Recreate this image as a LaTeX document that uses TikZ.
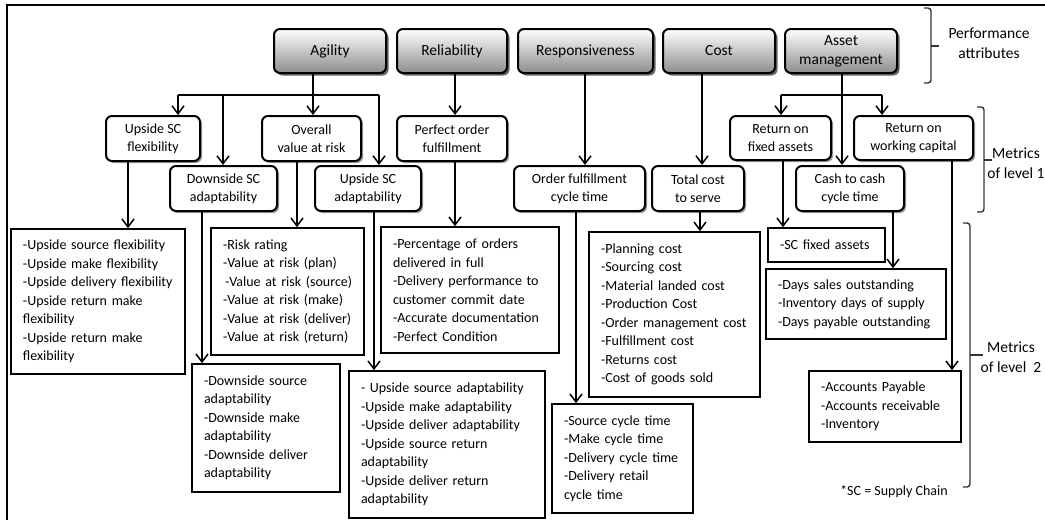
\documentclass[tikz,border=0pt]{standalone}
\usepackage{fontspec}
\setmainfont{Carlito}
\usetikzlibrary{arrows.meta,shadows}

\begin{document}
\begin{tikzpicture}[x=1pt,y=-1pt,
  attr/.style={draw=black, line width=2pt, rounded corners=6pt,
    top color=white, bottom color=black!45,
    drop shadow={shadow xshift=2.5pt, shadow yshift=-2.5pt, fill=black!75, opacity=0.8},
    minimum height=44pt, inner sep=2pt, align=center,
    font=\fontsize{15.5}{19}\selectfont},
  met/.style={draw=black, line width=2pt, rounded corners=6pt, fill=white,
    drop shadow={shadow xshift=2pt, shadow yshift=-2pt, fill=black!50, opacity=0.8},
    minimum height=45pt, inner sep=2pt, align=center,
    font=\fontsize{14}{18}\selectfont},
  lst/.style={draw=black, line width=1.6pt, fill=white, inner xsep=12pt, inner ysep=0pt,
    align=left, font=\fontsize{14}{18.5}\selectfont},
  wire/.style={line width=1.5pt},
  conn/.style={line width=1.5pt, -{Straight Barb[length=8pt,width=12pt]}},
  brk/.style={line width=1.4pt, draw=black!80, rounded corners=3pt},
  lbl/.style={inner sep=0pt, align=center, font=\fontsize{15.5}{20}\selectfont}
]
\useasboundingbox (0,0) rectangle (1045,520);

% outer frame (top and left edges)
\draw[line width=2pt] (7,520) -- (7,5) -- (1045,5);

% performance attributes
\node[attr, minimum width=112pt] (agility)   at (330,51)   {Agility};
\node[attr, minimum width=110pt] (reliab)    at (452,51)   {Reliability};
\node[attr, minimum width=135pt] (respons)   at (585.5,51) {Responsiveness};
\node[attr, minimum width=112pt] (cost)      at (719,51)   {Cost};
\node[attr, minimum width=112pt] (asset)     at (841,51)   {Asset\\management};

% metrics of level 1
\node[met, minimum width=94pt]  (upflex)    at (153,138.5)   {Upside SC\\flexibility};
\node[met, minimum width=99pt]  (var)       at (311.5,138.5) {Overall\\value at risk};
\node[met, minimum width=110pt] (perfect)   at (452,138.5)   {Perfect order\\fulfillment};
\node[met, minimum width=107pt] (downadapt) at (223.5,188.5) {Downside SC\\adaptability};
\node[met, minimum width=106pt] (upadapt)   at (368,188.5)   {Upside SC\\adaptability};
\node[met, minimum width=131pt] (ofct)      at (579.5,188.5) {Order fulfillment\\cycle time};
\node[met, minimum width=92pt]  (tcs)       at (698,188.5)   {Total cost\\to serve};
\node[met, minimum width=101pt, minimum height=44pt] (rfa) at (780.5,138) {Return on\\fixed assets};
\node[met, minimum width=119pt, minimum height=44pt] (rwc) at (913.5,138) {Return on\\working capital};
\node[met, minimum width=108pt] (ctc)       at (850,188.5)   {Cash to cash\\cycle time};

% metrics of level 2
\node[lst, text width=150pt, minimum height=145pt] (lflex) at (98,301.5)
  {-Upside source flexibility\\-Upside make flexibility\\-Upside delivery flexibility\\-Upside return make\\flexibility\\-Upside return make\\flexibility};
\node[lst, inner xsep=10pt, text width=133pt, minimum height=127pt] (lvar) at (287.5,291.5)
  {\hspace*{2pt}-Risk rating\\\hspace*{2pt}-Value at risk (plan)\\\hspace*{4pt}-Value at risk (source)\\\hspace*{2pt}-Value at risk (make)\\\hspace*{2pt}-Value at risk (deliver)\\\hspace*{2pt}-Value at risk (return)};
\node[lst, text width=124pt, minimum height=128pt] (ldown) at (266,428)
  {-Downside source\\adaptability\\-Downside make\\adaptability\\-Downside deliver\\adaptability};
\node[lst, text width=172pt, minimum height=147pt] (lup) at (447,444.5)
  {- Upside source adaptability\\-Upside make adaptability\\-Upside deliver adaptability\\-Upside source return\\adaptability\\-Upside deliver return\\adaptability};
\node[lst, text width=154pt, minimum height=126pt] (lperf) at (470,290)
  {-Percentage of orders\\delivered in full\\-Delivery performance to\\customer commit date\\-Accurate documentation\\-Perfect Condition};
\node[lst, text width=147pt, minimum height=165pt] (lcost) at (674.5,314.5)
  {-Planning cost\\-Sourcing cost\\-Material landed cost\\-Production Cost\\-Order management cost\\-Fulfillment cost\\-Returns cost\\-Cost of goods sold};
\node[lst, text width=117pt, minimum height=109pt] (lcycle) at (622.5,458.5)
  {-Source cycle time\\-Make cycle time\\-Delivery cycle time\\-Delivery retail\\cycle time};
\node[lst, text width=93pt, minimum height=34pt] (lfixed) at (826.5,245)
  {-SC fixed assets};
\node[lst, text width=156pt, minimum height=70pt] (ldays) at (856,304)
  {-Days sales outstanding\\-Inventory days of supply\\-Days payable outstanding};
\node[lst, text width=128pt, minimum height=71pt] (lacc) at (885,406.5)
  {-Accounts Payable\\-Accounts receivable\\-Inventory};

% branch points and connector columns
\coordinate (busA) at (313,95);
\coordinate (tUF)  at (178,95);
\coordinate (tDA)  at (223,95);
\coordinate (tUA)  at (379,95);
\coordinate (busM) at (842,95);
\coordinate (tRF)  at (781,95);
\coordinate (tRW)  at (882,95);
\coordinate (xRel) at (455,0);
\coordinate (xRes) at (585,0);
\coordinate (xCst) at (702,0);
\coordinate (xUF)  at (128,0);
\coordinate (xDA)  at (202,0);
\coordinate (xVR)  at (297,0);
\coordinate (xUA)  at (374,0);
\coordinate (xPO)  at (455,0);
\coordinate (xOF)  at (576,0);
\coordinate (xTC)  at (700,0);
\coordinate (xRF)  at (783,0);
\coordinate (xCC)  at (893,0);
\coordinate (xRW)  at (952,0);

% attributes to level 1
\draw[wire] (tUF) -- (tUA);
\draw[conn] (agility.south -| busA) -- (var.north -| busA);
\draw[conn] (tUF) -- (upflex.north -| tUF);
\draw[conn] (tDA) -- (downadapt.north -| tDA);
\draw[conn] (tUA) -- (upadapt.north -| tUA);
\draw[conn] (reliab.south -| xRel) -- (perfect.north -| xRel);
\draw[conn] (respons.south -| xRes) -- (ofct.north -| xRes);
\draw[conn] (cost.south -| xCst) -- (tcs.north -| xCst);
\draw[wire] (tRF) -- (tRW);
\draw[conn] (asset.south -| busM) -- (ctc.north -| busM);
\draw[conn] (tRF) -- (rfa.north -| tRF);
\draw[conn] (tRW) -- (rwc.north -| tRW);

% level 1 to level 2
\draw[conn] (upflex.south -| xUF) -- (lflex.north -| xUF);
\draw[conn] (downadapt.south -| xDA) -- (ldown.north -| xDA);
\draw[conn] (var.south -| xVR) -- (lvar.north -| xVR);
\draw[conn] (upadapt.south -| xUA) -- (lup.north -| xUA);
\draw[conn] (perfect.south -| xPO) -- (lperf.north -| xPO);
\draw[conn] (ofct.south -| xOF) -- (lcycle.north -| xOF);
\draw[conn] (tcs.south -| xTC) -- (lcost.north -| xTC);
\draw[conn] (rfa.south -| xRF) -- (lfixed.north -| xRF);
\draw[conn] (ctc.south -| xCC) -- (ldays.north -| xCC);
\draw[conn] (rwc.south -| xRW) -- (lacc.north -| xRW);

% level brackets and their labels
\draw[brk] (924,8) -- (931,8) -- (931,83) -- (924,83);
\draw[brk] (931,46) -- (939,46);
\node[lbl] (perfattr) at (989,43) {Performance\\attributes};

\draw[brk] (977,107) -- (984,107) -- (984,212) -- (977,212);
\draw[brk] (984,160) -- (992,160);
\node[lbl] (lev1) at (1016,163) {Metrics\\of level 1};

\draw[brk] (963,223) -- (970,223) -- (970,487) -- (963,487);
\draw[brk] (970,355) -- (983,355);
\node[lbl] (lev2) at (1011,357) {Metrics\\of level\ \ 2};

\node[inner sep=0pt, font=\fontsize{14}{17}\selectfont] (note) at (894,492) {*SC = Supply Chain};
\end{tikzpicture}
\end{document}
